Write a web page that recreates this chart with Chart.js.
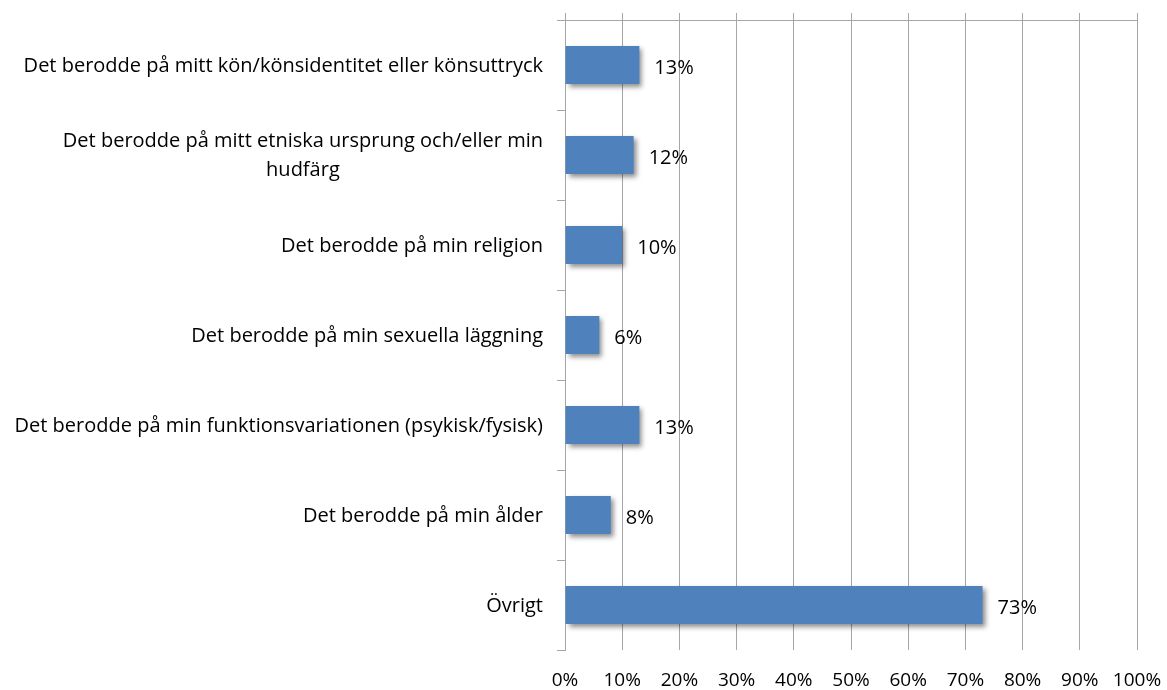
<!DOCTYPE html>
<html>
<head>
<meta charset="utf-8">
<script src="https://cdn.jsdelivr.net/npm/chart.js@4.4.1/dist/chart.umd.min.js"></script>
<style>
html,body{margin:0;padding:0;background:#fff;}
#wrap{width:1167px;height:690px;position:relative;}
</style>
</head>
<body>
<div id="wrap"><canvas id="c" width="1167" height="690"></canvas></div>
<script>
const categories = [
  ["Det berodde på mitt kön/könsidentitet eller könsuttryck"],
  ["Det berodde på mitt etniska ursprung och/eller min", "hudfärg"],
  ["Det berodde på min religion"],
  ["Det berodde på min sexuella läggning"],
  ["Det berodde på min funktionsvariationen (psykisk/fysisk)"],
  ["Det berodde på min ålder"],
  ["Övrigt"]
];
const values = [13, 12, 10, 6, 13, 8, 73];
const valueLabels = ["13%", "12%", "10%", "6%", "13%", "8%", "73%"];
const tickValues = [0, 10, 20, 30, 40, 50, 60, 70, 80, 90, 100];

const FONT = "'Open Sans', 'Noto Sans', sans-serif";
const GRID = '#A6A6A6';

const shadowPlugin = {
  id: 'barShadow',
  beforeDatasetDraw(chart) {
    const ctx = chart.ctx;
    ctx.save();
    ctx.shadowColor = 'rgba(0,0,0,0.45)';
    ctx.shadowBlur = 5;
    ctx.shadowOffsetX = 3;
    ctx.shadowOffsetY = 3;
  },
  afterDatasetDraw(chart) {
    chart.ctx.restore();
  }
};

const labelPlugin = {
  id: 'labels',
  afterDraw(chart) {
    const ctx = chart.ctx;
    const yScale = chart.scales.y;
    const meta = chart.getDatasetMeta(0);
    ctx.save();
    ctx.fillStyle = '#000';
    ctx.font = '20px ' + FONT;
    ctx.textBaseline = 'middle';
    ctx.textAlign = 'left';
    meta.data.forEach((bar, i) => {
      ctx.fillText(valueLabels[i], bar.x + 15, bar.y + 3);
    });
    const rightEdge = yScale.right - 22;
    const lh = 29;
    categories.forEach((lines, i) => {
      const cy = yScale.getPixelForTick(i);
      const widths = lines.map(l => ctx.measureText(l).width);
      const bw = Math.max(...widths);
      const cx = rightEdge - bw / 2;
      ctx.textAlign = 'center';
      lines.forEach((l, j) => {
        const y = cy + (j - (lines.length - 1) / 2) * lh + 1;
        ctx.fillText(l, cx, y);
      });
    });
    ctx.restore();
  }
};

new Chart(document.getElementById('c'), {
  type: 'bar',
  data: {
    labels: categories.map(c => c.join(' ')),
    datasets: [{
      data: values,
      backgroundColor: '#4F81BD',
      borderWidth: 0,
      categoryPercentage: 1,
      barPercentage: 0.42
    }]
  },
  options: {
    indexAxis: 'y',
    responsive: false,
    animation: false,
    events: [],
    layout: { padding: { top: 13, right: 30, bottom: 0, left: 0 } },
    plugins: { legend: { display: false }, tooltip: { enabled: false } },
    scales: {
      x: {
        position: 'bottom',
        min: 0, max: 100,
        afterBuildTicks(s) { s.ticks = tickValues.map(v => ({ value: v })); },
        afterFit(s) { s.height = 40; s.paddingLeft = 0; s.paddingRight = 0; },
        grid: { color: GRID, lineWidth: 1, drawTicks: false },
        border: { display: false },
        ticks: {
          padding: 19,
          color: '#000',
          font: { family: FONT, size: 19 },
          maxRotation: 0,
          callback: v => v + '%'
        }
      },
      x2: {
        position: 'top',
        min: 0, max: 100,
        afterBuildTicks(s) { s.ticks = tickValues.map(v => ({ value: v })); },
        afterFit(s) { s.height = 7; s.paddingLeft = 0; s.paddingRight = 0; },
        grid: { color: GRID, lineWidth: 1, drawTicks: true, tickLength: 7, drawOnChartArea: false },
        border: { display: true, color: GRID, width: 1 },
        ticks: { display: false }
      },
      y: {
        position: 'left',
        afterFit(s) { s.width = 565; },
        grid: { color: GRID, drawOnChartArea: false, drawTicks: true, tickLength: 8, offset: true },
        border: { display: true, color: GRID, width: 1 },
        ticks: { display: false }
      }
    }
  },
  plugins: [shadowPlugin, labelPlugin]
});
</script>
</body>
</html>
